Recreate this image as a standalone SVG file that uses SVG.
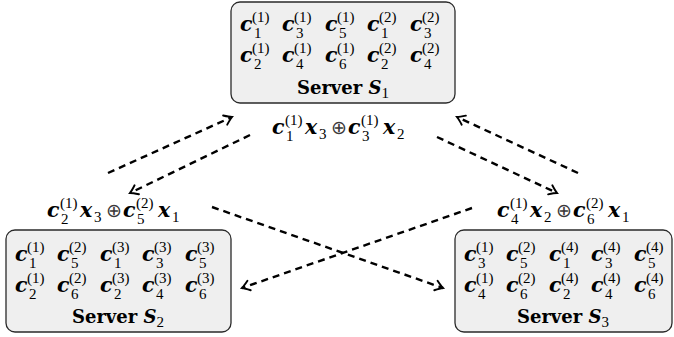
<svg xmlns="http://www.w3.org/2000/svg" width="674" height="337" viewBox="0 0 674 337">
  <defs>
    <style>
      .box { fill: #efefef; stroke: #2a2a2a; stroke-width: 1.3; }
      .m { font-family: DejaVu Serif, Liberation Serif, serif; font-weight: bold; font-style: italic; font-size: 20.5px; fill: #000; }
      .s { font-family: Liberation Serif, DejaVu Serif, serif; font-size: 15px; fill: #000; }
      .op { font-family: DejaVu Sans, Liberation Sans, sans-serif; font-weight: 200; font-size: 19px; fill: #3a3a3a; }
      .t { font-family: DejaVu Serif, Liberation Serif, serif; font-weight: bold; font-size: 18px; fill: #000; }
      .ti { font-family: DejaVu Serif, Liberation Serif, serif; font-weight: bold; font-style: italic; font-size: 18px; fill: #000; }
      .link { fill: none; stroke: #000; stroke-width: 2.4; stroke-dasharray: 7 5; marker-end: url(#tip); }
    </style>
    <marker id="tip" markerUnits="userSpaceOnUse" markerWidth="14" markerHeight="14" refX="0" refY="0" orient="auto" overflow="visible">
      <path d="M-7.5,-5 Q-2.5,-1.2 0,0 Q-2.5,1.2 -7.5,5" fill="none" stroke="#000" stroke-width="1.9" stroke-linecap="round" stroke-dasharray="none"/>
    </marker>
  </defs>

  <!-- Server S1 -->
  <g id="server-s1">
    <rect class="box" x="231" y="2" width="224" height="101" rx="9"/>
    <text x="240" y="31"><tspan class="m">c</tspan><tspan class="s" x="252" y="22">(1)</tspan><tspan class="s" x="254" y="38">1</tspan></text>
    <text x="282" y="31"><tspan class="m">c</tspan><tspan class="s" x="294" y="22">(1)</tspan><tspan class="s" x="296" y="38">3</tspan></text>
    <text x="325" y="31"><tspan class="m">c</tspan><tspan class="s" x="337" y="22">(1)</tspan><tspan class="s" x="339" y="38">5</tspan></text>
    <text x="367" y="31"><tspan class="m">c</tspan><tspan class="s" x="379" y="22">(2)</tspan><tspan class="s" x="381" y="38">1</tspan></text>
    <text x="410" y="31"><tspan class="m">c</tspan><tspan class="s" x="422" y="22">(2)</tspan><tspan class="s" x="424" y="38">3</tspan></text>
    <text x="240" y="62"><tspan class="m">c</tspan><tspan class="s" x="252" y="53">(1)</tspan><tspan class="s" x="254" y="69">2</tspan></text>
    <text x="282" y="62"><tspan class="m">c</tspan><tspan class="s" x="294" y="53">(1)</tspan><tspan class="s" x="296" y="69">4</tspan></text>
    <text x="325" y="62"><tspan class="m">c</tspan><tspan class="s" x="337" y="53">(1)</tspan><tspan class="s" x="339" y="69">6</tspan></text>
    <text x="367" y="62"><tspan class="m">c</tspan><tspan class="s" x="379" y="53">(2)</tspan><tspan class="s" x="381" y="69">2</tspan></text>
    <text x="410" y="62"><tspan class="m">c</tspan><tspan class="s" x="422" y="53">(2)</tspan><tspan class="s" x="424" y="69">4</tspan></text>
    <text x="343" y="94" text-anchor="middle"><tspan class="t">Server </tspan><tspan class="ti">S</tspan><tspan class="s" dy="4">1</tspan></text>
  </g>

  <!-- Server S2 -->
  <g id="server-s2">
    <rect class="box" x="6" y="230" width="225" height="102" rx="9"/>
    <text x="15" y="261"><tspan class="m">c</tspan><tspan class="s" x="27" y="252">(1)</tspan><tspan class="s" x="29" y="268">1</tspan></text>
    <text x="57" y="261"><tspan class="m">c</tspan><tspan class="s" x="69" y="252">(2)</tspan><tspan class="s" x="71" y="268">5</tspan></text>
    <text x="100" y="261"><tspan class="m">c</tspan><tspan class="s" x="112" y="252">(3)</tspan><tspan class="s" x="114" y="268">1</tspan></text>
    <text x="142" y="261"><tspan class="m">c</tspan><tspan class="s" x="154" y="252">(3)</tspan><tspan class="s" x="156" y="268">3</tspan></text>
    <text x="185" y="261"><tspan class="m">c</tspan><tspan class="s" x="197" y="252">(3)</tspan><tspan class="s" x="199" y="268">5</tspan></text>
    <text x="15" y="292"><tspan class="m">c</tspan><tspan class="s" x="27" y="283">(1)</tspan><tspan class="s" x="29" y="299">2</tspan></text>
    <text x="57" y="292"><tspan class="m">c</tspan><tspan class="s" x="69" y="283">(2)</tspan><tspan class="s" x="71" y="299">6</tspan></text>
    <text x="100" y="292"><tspan class="m">c</tspan><tspan class="s" x="112" y="283">(3)</tspan><tspan class="s" x="114" y="299">2</tspan></text>
    <text x="142" y="292"><tspan class="m">c</tspan><tspan class="s" x="154" y="283">(3)</tspan><tspan class="s" x="156" y="299">4</tspan></text>
    <text x="185" y="292"><tspan class="m">c</tspan><tspan class="s" x="197" y="283">(3)</tspan><tspan class="s" x="199" y="299">6</tspan></text>
    <text x="118" y="323" text-anchor="middle"><tspan class="t">Server </tspan><tspan class="ti">S</tspan><tspan class="s" dy="4">2</tspan></text>
  </g>

  <!-- Server S3 -->
  <g id="server-s3">
    <rect class="box" x="455" y="230" width="217" height="102" rx="9"/>
    <text x="464" y="261"><tspan class="m">c</tspan><tspan class="s" x="476" y="252">(1)</tspan><tspan class="s" x="478" y="268">3</tspan></text>
    <text x="506" y="261"><tspan class="m">c</tspan><tspan class="s" x="518" y="252">(2)</tspan><tspan class="s" x="520" y="268">5</tspan></text>
    <text x="549" y="261"><tspan class="m">c</tspan><tspan class="s" x="561" y="252">(4)</tspan><tspan class="s" x="563" y="268">1</tspan></text>
    <text x="591" y="261"><tspan class="m">c</tspan><tspan class="s" x="603" y="252">(4)</tspan><tspan class="s" x="605" y="268">3</tspan></text>
    <text x="634" y="261"><tspan class="m">c</tspan><tspan class="s" x="646" y="252">(4)</tspan><tspan class="s" x="648" y="268">5</tspan></text>
    <text x="464" y="292"><tspan class="m">c</tspan><tspan class="s" x="476" y="283">(1)</tspan><tspan class="s" x="478" y="299">4</tspan></text>
    <text x="506" y="292"><tspan class="m">c</tspan><tspan class="s" x="518" y="283">(2)</tspan><tspan class="s" x="520" y="299">6</tspan></text>
    <text x="549" y="292"><tspan class="m">c</tspan><tspan class="s" x="561" y="283">(4)</tspan><tspan class="s" x="563" y="299">2</tspan></text>
    <text x="591" y="292"><tspan class="m">c</tspan><tspan class="s" x="603" y="283">(4)</tspan><tspan class="s" x="605" y="299">4</tspan></text>
    <text x="634" y="292"><tspan class="m">c</tspan><tspan class="s" x="646" y="283">(4)</tspan><tspan class="s" x="648" y="299">6</tspan></text>
    <text x="563" y="323" text-anchor="middle"><tspan class="t">Server </tspan><tspan class="ti">S</tspan><tspan class="s" dy="4">3</tspan></text>
  </g>

  <!-- transmitted coded symbols -->
  <g id="msg-s1">
    <text x="272" y="134"><tspan class="m">c</tspan><tspan class="s" x="285" y="125">(1)</tspan><tspan class="s" x="286" y="141">1</tspan><tspan class="m" x="305" y="134">x</tspan><tspan class="s" x="319" y="139">3</tspan><tspan class="op" x="331" y="134">⊕</tspan><tspan class="m" x="348" y="134">c</tspan><tspan class="s" x="361" y="125">(1)</tspan><tspan class="s" x="362" y="141">3</tspan><tspan class="m" x="383" y="134">x</tspan><tspan class="s" x="397" y="139">2</tspan></text>
  </g>
  <g id="msg-s2">
    <text x="47" y="217"><tspan class="m">c</tspan><tspan class="s" x="60" y="208">(1)</tspan><tspan class="s" x="61" y="224">2</tspan><tspan class="m" x="80" y="217">x</tspan><tspan class="s" x="94" y="222">3</tspan><tspan class="op" x="106" y="217">⊕</tspan><tspan class="m" x="123" y="217">c</tspan><tspan class="s" x="136" y="208">(2)</tspan><tspan class="s" x="137" y="224">5</tspan><tspan class="m" x="158" y="217">x</tspan><tspan class="s" x="172" y="222">1</tspan></text>
  </g>
  <g id="msg-s3">
    <text x="497" y="217"><tspan class="m">c</tspan><tspan class="s" x="510" y="208">(1)</tspan><tspan class="s" x="511" y="224">4</tspan><tspan class="m" x="530" y="217">x</tspan><tspan class="s" x="544" y="222">2</tspan><tspan class="op" x="556" y="217">⊕</tspan><tspan class="m" x="573" y="217">c</tspan><tspan class="s" x="586" y="208">(2)</tspan><tspan class="s" x="587" y="224">6</tspan><tspan class="m" x="608" y="217">x</tspan><tspan class="s" x="622" y="222">1</tspan></text>
  </g>

  <!-- dashed transfers between servers -->
  <g id="connectors">
    <path class="link" d="M108,173 L232,117"/>
    <path class="link" d="M250,135 L130,193"/>
    <path class="link" d="M578,173 L457,117"/>
    <path class="link" d="M437,137 L557,193"/>
    <path class="link" d="M212,207 L443,288"/>
    <path class="link" d="M472,208 L242,288"/>
  </g>
</svg>
